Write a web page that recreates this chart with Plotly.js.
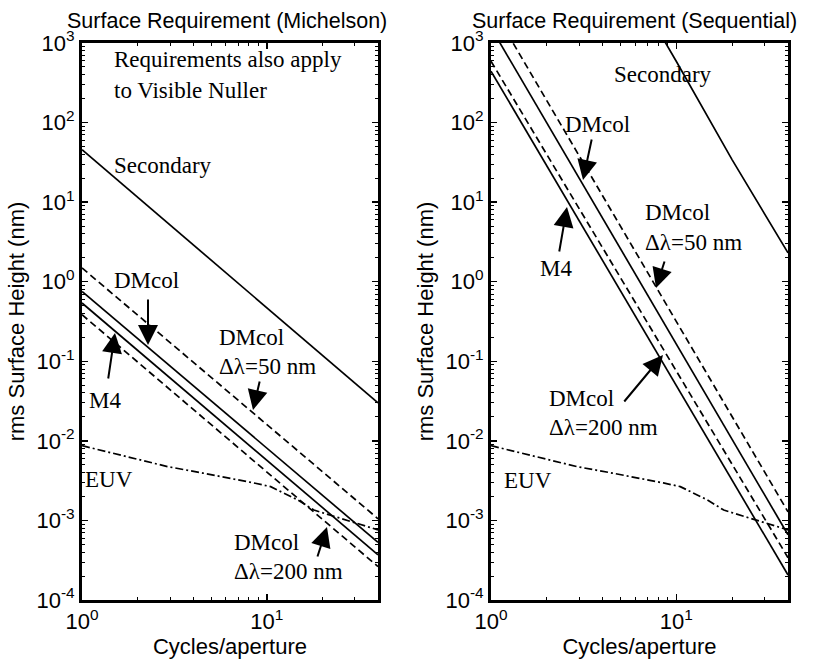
<!DOCTYPE html>
<html>
<head>
<meta charset="utf-8">
<script src="https://cdn.plot.ly/plotly-3.0.1.min.js"></script>
<style>html,body{margin:0;padding:0;background:#fff;}#chart{width:817px;height:665px;}</style>
</head>
<body>
<div id="chart"></div>
<script>
// ---------------- data ----------------
// Michelson panel
const michX          = [1, 2, 5, 10, 20, 40];
const michSecondary  = [45.7, 11.5, 1.87, 0.47, 0.119, 0.030];
const michDMcol50    = [1.49, 0.38, 0.0627, 0.016, 0.0041, 0.00105];
const michDMcol      = [0.755, 0.193, 0.0318, 0.0081, 0.00208, 0.00053];
const michM4         = [0.54, 0.137, 0.0224, 0.0057, 0.00145, 0.00037];
const michDMcol200   = [0.385, 0.0977, 0.016, 0.00406, 0.00103, 0.000263];

// Sequential panel
const seqX           = [1, 2, 5, 10, 20, 40];
const seqDMcol50     = [2965, 189, 4.98, 0.318, 0.0203, 0.00128];
const seqDMcol       = [1560, 99, 2.58, 0.164, 0.0104, 0.00066];
const seqDMcol200    = [590, 39.8, 1.13, 0.076, 0.0051, 0.00034];
const seqM4          = [442, 28.6, 0.766, 0.0495, 0.0032, 0.000206];
const seqSecondaryX  = [8, 10, 20, 40];
const seqSecondary   = [1430, 586, 34, 2.3];

// EUV (same curve in both panels)
const euvX = [1, 2, 2.9, 4.5, 6.4, 8.5, 10.5, 12.5, 14.7, 18, 25, 40];
const euvY = [0.0087, 0.00586, 0.00475, 0.00394, 0.0034, 0.00296, 0.00266, 0.00219, 0.00181, 0.00135, 0.00107, 0.00076];

// tick labels
const xTickVals = [1, 10];
const xTickText = ['10<sup>0</sup>', '10<sup>1</sup>'];
const yTickVals = [1e-4, 1e-3, 1e-2, 1e-1, 1e0, 1e1, 1e2, 1e3];
const yTickText = ['10<sup>-4</sup>','10<sup>-3</sup>','10<sup>-2</sup>','10<sup>-1</sup>','10<sup>0</sup>','10<sup>1</sup>','10<sup>2</sup>','10<sup>3</sup>'];

const panelTitles = ['Surface Requirement (Michelson)', 'Surface Requirement (Sequential)'];
const xTitle = 'Cycles/aperture';
const yTitle = 'rms Surface Height (nm)';

// ---------------- figure ----------------
const W = 817, H = 665;
const M = {l: 82, r: 29, t: 43, b: 65};
const PW = W - M.l - M.r, PH = H - M.t - M.b;
const X = px => (px - M.l) / PW;
const Y = py => (H - M.b - py) / PH;

const SANS = 'Liberation Sans, Arial, sans-serif';
const SERIF = 'Liberation Serif, Times New Roman, serif';
const DASH = '7px,4px';
const DASHDOT = '8px,3px,2px,3px';

function tr(x, y, xa, ya, dash, name) {
  return {x: x, y: y, xaxis: xa, yaxis: ya, mode: 'lines', name: name,
          line: {color: 'black', width: 1.7, dash: dash}, showlegend: false, hoverinfo: 'skip'};
}

const traces = [
  tr(michX, michSecondary, 'x', 'y', 'solid', 'Secondary'),
  tr(michX, michDMcol50, 'x', 'y', DASH, 'DMcol Δλ=50 nm'),
  tr(michX, michDMcol, 'x', 'y', 'solid', 'DMcol'),
  tr(michX, michM4, 'x', 'y', 'solid', 'M4'),
  tr(michX, michDMcol200, 'x', 'y', DASH, 'DMcol Δλ=200 nm'),
  tr(euvX, euvY, 'x', 'y', DASHDOT, 'EUV'),
  tr(seqSecondaryX, seqSecondary, 'x2', 'y2', 'solid', 'Secondary'),
  tr(seqX, seqDMcol50, 'x2', 'y2', DASH, 'DMcol Δλ=50 nm'),
  tr(seqX, seqDMcol, 'x2', 'y2', 'solid', 'DMcol'),
  tr(seqX, seqDMcol200, 'x2', 'y2', DASH, 'DMcol Δλ=200 nm'),
  tr(seqX, seqM4, 'x2', 'y2', 'solid', 'M4'),
  tr(euvX, euvY, 'x2', 'y2', DASHDOT, 'EUV')
];

const xMinor = [], yMinor = [];
for (let d = 0; d < 2; d++) for (let k = 2; k <= 9; k++) xMinor.push(k * Math.pow(10, d));
for (let d = -4; d < 3; d++) for (let k = 2; k <= 9; k++) yMinor.push(k * Math.pow(10, d));

function axBase() {
  return {type: 'log', showline: true, linecolor: 'black', linewidth: 3, mirror: 'ticks',
          ticks: 'inside', ticklen: 6, tickwidth: 1.5, tickcolor: 'black',
          showgrid: false, zeroline: false, tickmode: 'array',
          tickfont: {family: SANS, size: 22, color: 'black'},
          minor: {ticks: 'inside', ticklen: 3, tickwidth: 1, tickcolor: 'black', tickmode: 'array', showgrid: false}};
}
function xax(domain, anchor) {
  const a = axBase();
  a.domain = domain; a.anchor = anchor; a.range = [0, Math.log10(40)];
  a.tickvals = xTickVals; a.ticktext = xTickText; a.minor.tickvals = xMinor;
  a.title = {text: xTitle, font: {family: SANS, size: 22, color: 'black'}, standoff: 4};
  return a;
}
function yax(anchor) {
  const a = axBase();
  a.domain = [0, 1]; a.anchor = anchor; a.range = [-4, 3];
  a.tickvals = yTickVals; a.ticktext = yTickText; a.minor.tickvals = yMinor;
  a.title = {text: yTitle, font: {family: SANS, size: 22, color: 'black'}, standoff: 6};
  return a;
}

function txt(s, lx, cy) {
  return {text: s, x: X(lx), y: Y(cy), xref: 'paper', yref: 'paper', xanchor: 'left', yanchor: 'middle',
          showarrow: false, font: {family: SERIF, size: 23, color: 'black'}};
}
function arrow(sx, sy, tx, ty) {
  return {text: '', x: X(tx), y: Y(ty), xref: 'paper', yref: 'paper', ax: sx - tx, ay: sy - ty,
          axref: 'pixel', ayref: 'pixel', showarrow: true, arrowhead: 2, arrowsize: 2,
          arrowwidth: 2, arrowcolor: 'black', standoff: 0, startstandoff: 0};
}
function title(s, cx) {
  return {text: s, x: X(cx), y: Y(21), xref: 'paper', yref: 'paper', xanchor: 'center', yanchor: 'middle',
          showarrow: false, font: {family: SANS, size: 21.5, color: 'black'}};
}

const annotations = [
  title(panelTitles[0], 227),
  title(panelTitles[1], 634),
  // Michelson panel
  txt('Requirements also apply', 112, 60),
  txt('to Visible Nuller', 112, 90),
  txt('Secondary', 112, 165),
  txt('DMcol', 112, 280),
  arrow(148, 298, 148, 345),
  txt('DMcol', 217, 337),
  txt('Δλ=50 nm', 217, 366),
  arrow(260, 380, 253, 410),
  txt('M4', 87, 400),
  arrow(108, 380, 115, 333),
  txt('EUV', 83, 479),
  txt('DMcol', 232, 542),
  txt('Δλ=200 nm', 232, 571),
  arrow(317, 558, 327, 527),
  // Sequential panel
  txt('Secondary', 612, 75),
  txt('DMcol', 563, 125),
  arrow(592, 138, 583, 180),
  txt('DMcol', 643, 212),
  txt('Δλ=50 nm', 643, 242),
  arrow(665, 260, 656, 288),
  txt('M4', 538, 268),
  arrow(559, 253, 567, 207),
  txt('DMcol', 547, 398),
  txt('Δλ=200 nm', 547, 427),
  arrow(623, 403, 663, 355),
  txt('EUV', 502, 480)
];

const layout = {
  width: W, height: H,
  margin: M,
  paper_bgcolor: 'white', plot_bgcolor: 'white',
  showlegend: false,
  xaxis: xax([0, X(378)], 'y'),
  yaxis: yax('x'),
  xaxis2: xax([X(491), 1], 'y2'),
  yaxis2: yax('x2'),
  annotations: annotations,
  font: {family: SANS, color: 'black'}
};

Plotly.newPlot('chart', traces, layout, {displayModeBar: false, staticPlot: true});
</script>
</body>
</html>
